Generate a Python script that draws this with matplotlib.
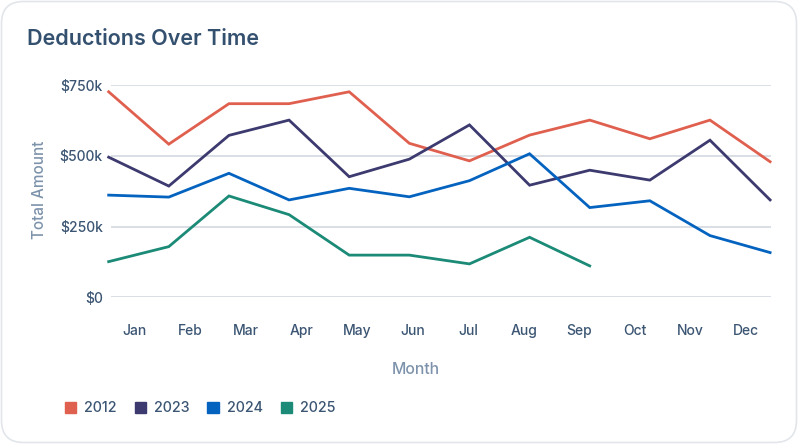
import matplotlib
matplotlib.use("Agg")
import matplotlib.pyplot as plt
import matplotlib.patches as mpatches
from matplotlib.transforms import IdentityTransform

plt.rcParams["font.family"] = ["Inter", "DejaVu Sans"]

# ── data (in $k) ─────────────────────────────────────────────────────────────
months = ["Jan", "Feb", "Mar", "Apr", "May", "Jun",
          "Jul", "Aug", "Sep", "Oct", "Nov", "Dec"]
years = ["2012", "2023", "2024", "2025"]
s2012 = [726, 541, 684, 684, 726, 544, 482, 573, 626, 560, 626, 479]
s2023 = [495, 393, 572, 626, 426, 488, 609, 396, 449, 414, 555, 344]
s2024 = [361, 354, 438, 344, 385, 355, 412, 507, 317, 341, 218, 158]
s2025 = [126, 179, 358, 292, 149, 149, 118, 212, 111]
yticks = [0, 250, 500, 750]
ytick_labels = ["$0", "$250k", "$500k", "$750k"]

colors = ["#E0604F", "#3C3A6F", "#0563C0", "#1B8A77"]
series = [s2012, s2023, s2024, s2025]

W, H = 798, 444
fig = plt.figure(figsize=(W / 100, H / 100), dpi=100)
fig.patch.set_facecolor("white")

# card outline (behind everything)
card = mpatches.FancyBboxPatch((1.5, 1.5), W - 3, H - 3,
                               boxstyle="round,pad=0,rounding_size=22",
                               transform=IdentityTransform(),
                               facecolor="white", edgecolor="#E2E6EA", lw=1.2,
                               zorder=-10)
fig.add_artist(card)

# plot area in pixels (band range 107..774, $0 at 297, $750k at 85)
x0, x1 = 107, 774
y0, y1 = 297.3, 85
ax = fig.add_axes([x0 / W, (H - y0) / H, (x1 - x0) / W, (y0 - y1) / H])
ax.set_facecolor("none")
ax.set_xlim(0, 12)
ax.set_ylim(0, 750)
for s in ax.spines.values():
    s.set_visible(False)

# gridlines
ax.hlines(yticks, 0.08, 11.95, colors="#D3D9E0", lw=1.2, zorder=0)

# lines on a point scale across the band range
n = len(months)
for name, vals, c in zip(years, series, colors):
    xs = [0.03 + i * (11.9 / (n - 1)) for i in range(len(vals))]
    ax.plot(xs, vals, color=c, lw=2.0, clip_on=False, solid_joinstyle="miter",
            label=name, zorder=3)

tick_col = "#3B5573"
ax.set_yticks(yticks)
ax.set_yticklabels(ytick_labels, fontsize=10, color=tick_col, fontweight="medium")
ax.set_xticks([i + 0.5 for i in range(n)])
ax.set_xticklabels(months, fontsize=10, color=tick_col, fontweight="medium")
ax.tick_params(axis="both", length=0)
ax.tick_params(axis="y", pad=3)
ax.tick_params(axis="x", pad=19)

lab_col = "#7D93AB"
fig.text(40 / W, 1 - 190 / H, "Total Amount", rotation=90, ha="center",
         va="center", fontsize=11, color=lab_col, fontweight="medium")
fig.text(416 / W, 1 - 369 / H, "Month", ha="center", va="center",
         fontsize=11.3, color=lab_col, fontweight="medium")

fig.text(27 / W, 1 - 39 / H, "Deductions Over Time", ha="left", va="center",
         fontsize=15.5, fontweight="semibold", color="#34506F")

# legend
handles = [mpatches.Patch(color=c, label=y) for y, c in zip(years, colors)]
fig.legend(handles=handles, loc="center left", bbox_to_anchor=(52 / W, 1 - 408 / H),
           ncol=4, frameon=False, prop={"size": 10.3, "weight": "medium"},
           labelcolor=tick_col,
           handlelength=0.8, handleheight=0.8, handletextpad=0.55,
           columnspacing=1.25)

fig.savefig("out.png", dpi=100, facecolor="white")
